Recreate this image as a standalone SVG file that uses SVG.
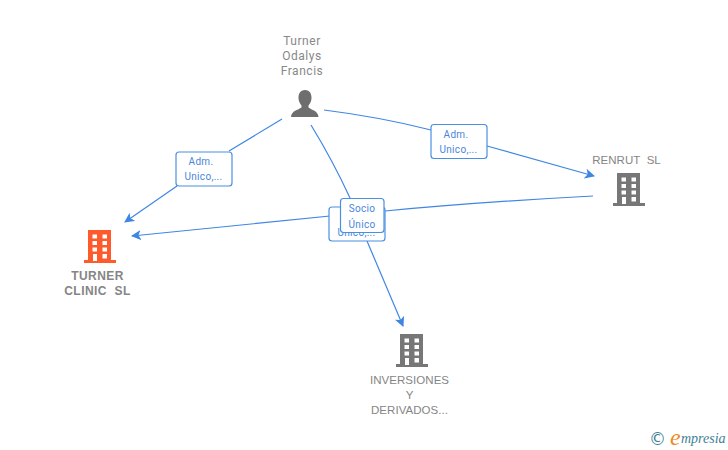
<svg xmlns="http://www.w3.org/2000/svg" width="728" height="450" viewBox="0 0 728 450">
<style>
.lbl{font-family:Roboto,"Liberation Sans",sans-serif;font-size:12px;fill:#888;text-anchor:middle;letter-spacing:.55px}
.co{font-family:"Liberation Sans",Arial,sans-serif;font-size:11.5px;fill:#858585;text-anchor:middle;letter-spacing:.05px}
.b{font-family:"Liberation Sans",Arial,sans-serif;font-weight:bold;font-size:12px;fill:#858585;text-anchor:middle;letter-spacing:.45px}
.box{fill:#fff;stroke:#4a90e2;stroke-width:1.2}
.bt{font-family:Roboto,"Liberation Sans",sans-serif;font-size:10px;fill:#4a86dc;text-anchor:middle;letter-spacing:.3px}
.ln{fill:none;stroke:#3f86e4;stroke-width:1.2}
</style>
<defs>
<marker id="ah" markerWidth="12" markerHeight="10" refX="9" refY="5" orient="auto" markerUnits="userSpaceOnUse"><path d="M0 0L10 5L0 10L2.500 5Z" fill="#3f86e4"/></marker>
<symbol id="bld" viewBox="0 0 32 34" overflow="visible"><path fill-rule="evenodd" d="M4 0H27V30H32V33H0V30H4ZM8.500 4.500V8.500H13V4.500ZM18.500 4.500V8.500H23V4.500ZM8.500 11V15H13V11ZM18.500 11V15H23V11ZM8.500 17.500V21.500H13V17.500ZM18.500 17.500V21.500H23V17.500ZM9 24V31H13V24ZM18.500 24V28.500H23V24Z"/></symbol>
</defs>
<rect width="728" height="450" fill="#fff"/>
<g id="connectors">
<path class="ln" d="M282 119L229 151"/>
<path class="ln" d="M177 186L125 222" marker-end="url(#ah)"/>
<path class="ln" d="M324 110Q380 117 431 130"/>
<path class="ln" d="M487 146L594 176" marker-end="url(#ah)"/>
<path class="ln" d="M311 125Q333 161 350 198"/>
<path class="ln" d="M367 241L403 326" marker-end="url(#ah)"/>
<path class="ln" d="M593 196Q480 202 385 211"/>
<path class="ln" d="M340 215L132 236" marker-end="url(#ah)"/>
</g>
<g id="edge-adm-1"><rect class="box" x="176" y="152" width="56" height="34" rx="3"/><text class="bt" x="201" y="165">Adm.</text><text class="bt" x="203.500" y="180">Unico,...</text></g>
<g id="edge-adm-2"><rect class="box" x="431" y="124.500" width="56" height="34" rx="3"/><text class="bt" x="456" y="137.500">Adm.</text><text class="bt" x="458.500" y="152.500">Unico,...</text></g>
<g id="edge-adm-3"><rect class="box" x="329" y="207" width="56" height="34" rx="3"/><text class="bt" x="356.500" y="235.500">Unico,...</text></g>
<g id="edge-socio"><rect class="box" x="340.500" y="198.500" width="43.500" height="34" rx="3"/><text class="bt" x="362" y="212">Socio</text><text class="bt" x="362" y="227.500">Único</text></g>
<g id="node-person">
<text class="lbl" x="302" y="45">Turner</text><text class="lbl" x="302" y="60">Odalys</text><text class="lbl" x="302" y="75">Francis</text>
<path fill="#6e6e6e" d="M305 90C300 90 298.500 94 298.500 98C298.500 101 300 104 301.500 105.500V107.500C298 110 291.500 110.500 291 117H318.500C318 110.500 311.500 110 308.500 107.500V105.500C310 104 311.500 101 311.500 98C311.500 94 310 90 305 90Z"/>
</g>
<g id="node-turner"><use href="#bld" x="84" y="230" width="32" height="34" fill="#ff5a2c"/><text class="b" x="97.500" y="280">TURNER</text><text class="b" x="97.500" y="295" xml:space="preserve">CLINIC  SL</text></g>
<g id="node-renrut"><use href="#bld" x="613" y="173" width="32" height="34" fill="#777"/><text class="co" x="626.500" y="164" xml:space="preserve">RENRUT  SL</text></g>
<g id="node-inversiones"><use href="#bld" x="396" y="334" width="32" height="34" fill="#777"/><text class="co" x="409.500" y="384">INVERSIONES</text><text class="co" x="409.500" y="399">Y</text><text class="co" x="409.500" y="414">DERIVADOS...</text></g>
<g id="logo">
<text x="657.500" y="445" font-family="'DejaVu Sans',sans-serif" font-size="17" fill="#3f7f96" text-anchor="middle">©</text>
<text x="670" y="445" font-family="'Liberation Serif',serif" font-style="italic" font-size="24" fill="#f08a1d">e</text>
<text x="681" y="443" font-family="'Liberation Serif',serif" font-style="italic" font-size="14" fill="#3f7f96">mpresia</text>
</g>
</svg>
